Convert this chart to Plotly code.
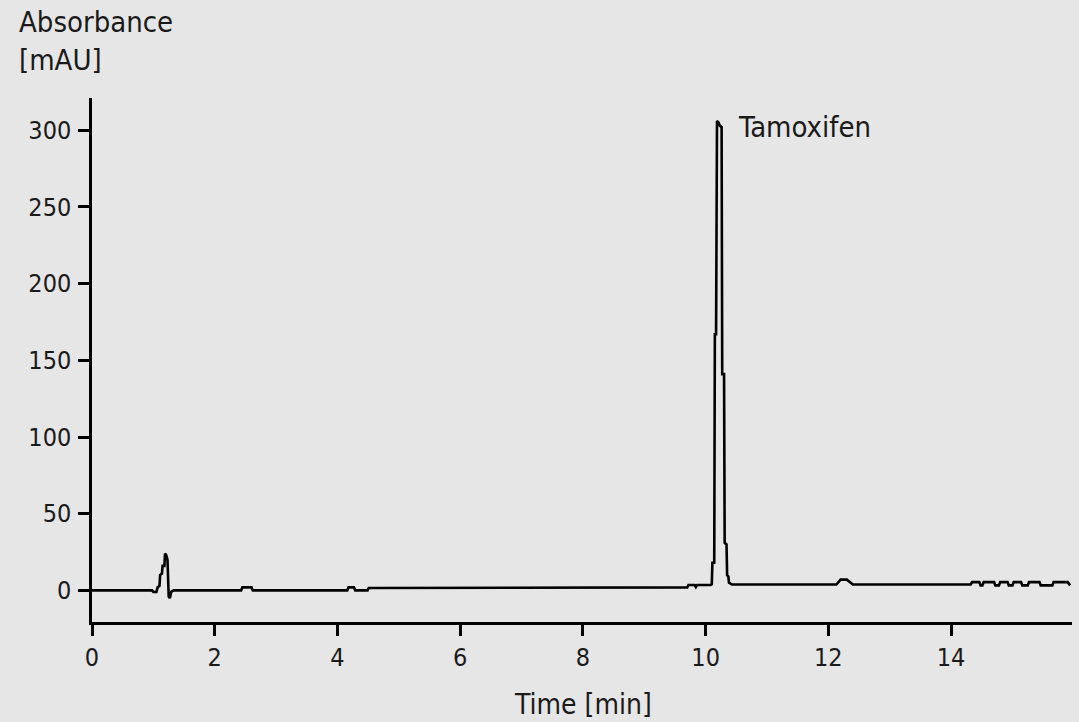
import plotly.graph_objects as go

# Chromatogram trace (time in min, absorbance in mAU)
time_min = [0.0, 0.98, 1.0, 1.05, 1.07, 1.10, 1.11, 1.14, 1.15, 1.18, 1.19, 1.21, 1.23,
            1.25, 1.27, 1.29, 1.33, 2.43, 2.45, 2.60, 2.62, 4.16, 4.18, 4.27, 4.29,
            4.49, 4.51, 7.0, 9.70, 9.72, 9.82, 9.84, 9.86, 10.08, 10.10, 10.11, 10.14,
            10.15, 10.17, 10.185, 10.21, 10.23, 10.26, 10.27, 10.30, 10.31, 10.34,
            10.35, 10.37, 10.38, 10.41, 10.43, 12.13, 12.16, 12.20, 12.30, 12.35,
            12.40, 14.32, 14.34, 14.46, 14.48, 14.51, 14.53, 14.70, 14.72, 14.78,
            14.80, 14.92, 14.94, 15.00, 15.02, 15.14, 15.16, 15.25, 15.27, 15.44,
            15.46, 15.65, 15.67, 15.90, 15.94]
absorbance = [0.0, 0.0, -1.0, -1.0, 2.0, 3.0, 10.0, 11.0, 16.0, 16.0, 24.0, 23.0, 20.0,
              -4.0, -5.0, -1.0, 0.0, 0.0, 2.0, 2.0, 0.0, 0.0, 2.0, 2.0, 0.0,
              0.0, 1.6, 1.8, 2.0, 3.5, 3.5, 2.2, 3.5, 3.5, 4.0, 18.0, 18.0,
              167.0, 167.0, 306.0, 305.0, 303.0, 302.0, 141.0, 141.0, 31.0, 30.0,
              10.0, 9.0, 5.0, 4.0, 3.8, 3.8, 5.5, 7.0, 7.0, 5.5,
              3.8, 3.8, 5.4, 5.4, 3.3, 3.3, 5.4, 5.4, 3.3, 3.3,
              5.4, 5.4, 3.3, 3.3, 5.4, 5.4, 3.3, 3.3, 5.4, 5.4,
              3.3, 3.3, 5.4, 5.4, 3.3]

x_ticks = [0, 2, 4, 6, 8, 10, 12, 14]
y_ticks = [0, 50, 100, 150, 200, 250, 300]
peak_label = "Tamoxifen"
peak_label_pos = (10.5, 302)

FONT = "DejaVu Sans Condensed, Liberation Sans Narrow, sans-serif"
BG = "#e6e6e6"
INK = "#1a1a1a"

fig = go.Figure()
fig.add_trace(go.Scatter(x=time_min, y=absorbance, mode="lines",
                         line=dict(color="#000000", width=2.6), showlegend=False,
                         hoverinfo="skip"))

axis_common = dict(showline=True, linecolor="#000000", linewidth=2.5, ticks="outside",
                   ticklen=11, tickwidth=2.5, tickcolor="#000000", showgrid=False,
                   zeroline=False, tickfont=dict(family=FONT, size=25, color=INK))

fig.update_layout(
    width=1079, height=722,
    paper_bgcolor=BG, plot_bgcolor=BG,
    margin=dict(l=92, r=7, t=98, b=100),
    font=dict(family=FONT, size=29, color=INK),
    xaxis=dict(range=[0, 15.97], tickvals=x_ticks, ticklabelstandoff=0, **axis_common),
    yaxis=dict(range=[-20.6, 321], tickvals=y_ticks, ticklabelstandoff=2, **axis_common),
)

def py(pixel_y):
    return (621.7 - pixel_y) / 523.7

fig.add_annotation(text="Absorbance", xref="paper", yref="paper",
                   x=(17 - 92) / 980, y=py(22), xanchor="left", yanchor="middle",
                   showarrow=False, font=dict(family=FONT, size=29, color=INK))
fig.add_annotation(text="[mAU]", xref="paper", yref="paper",
                   x=(17 - 92) / 980, y=py(60), xanchor="left", yanchor="middle",
                   showarrow=False, font=dict(family=FONT, size=29, color=INK))
fig.add_annotation(text="Time [min]", xref="x", yref="paper",
                   x=8, y=py(704), xanchor="center", yanchor="middle",
                   showarrow=False, font=dict(family=FONT, size=28, color=INK))
fig.add_annotation(text=peak_label, xref="x", yref="y",
                   x=peak_label_pos[0], y=peak_label_pos[1], xanchor="left", yanchor="middle",
                   showarrow=False, font=dict(family=FONT, size=29, color=INK))

fig.write_html("out.html", config={"displayModeBar": False}, post_script=(
    "document.body.style.margin='0';"
    "document.body.style.background='#e6e6e6';"))
